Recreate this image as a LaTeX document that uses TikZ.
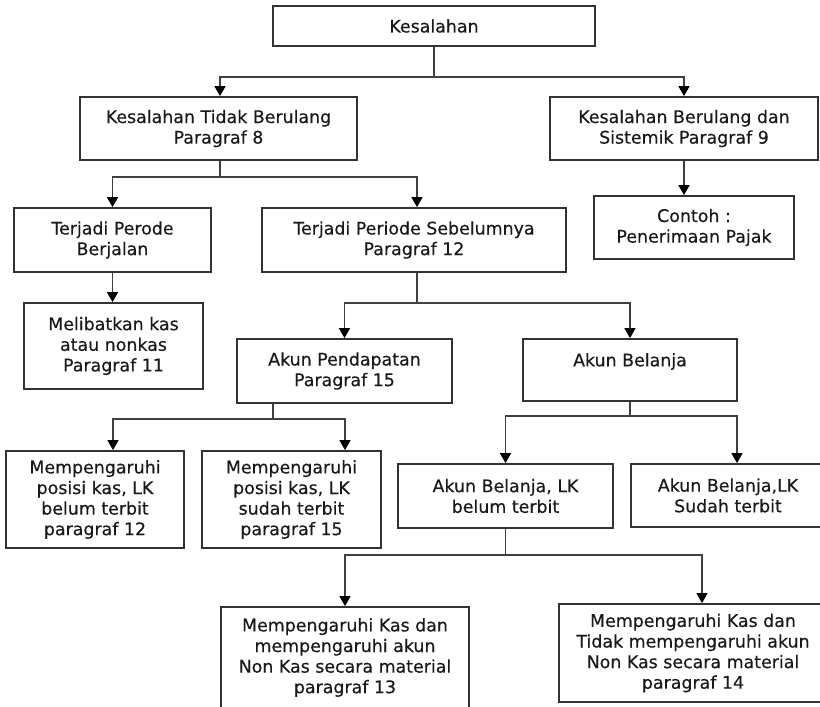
\documentclass[tikz,border=0pt]{standalone}
\usepackage{fontspec}
\setmainfont[FakeBold=0.3]{DejaVu Sans}
\usetikzlibrary{arrows.meta}
\begin{document}
\begin{tikzpicture}[x=1pt,y=-1pt,
  box/.style={draw=black!80, line width=1.8pt, fill=white, inner sep=0pt, align=center,
    font=\fontsize{17.4}{20.6}\selectfont, text=black!90},
  conn/.style={draw=black!75, line width=1.6pt},
  arr/.style={conn, -{Triangle[width=11pt,length=10pt,color=black,fill=black]}}]
\useasboundingbox (0,0) rectangle (820,707);
\fill[white] (0,0) rectangle (820,707);
% boxes
\node[box, minimum width=322pt, minimum height=40pt] (b1) at (434,26) {Kesalahan};
\node[box, minimum width=277pt, minimum height=63pt] (b2) at (218.5,128.5) {Kesalahan Tidak Berulang\\Paragraf 8};
\node[box, minimum width=268pt, minimum height=63pt] (b3) at (684,128.5) {Kesalahan Berulang dan\\Sistemik Paragraf 9};
\node[box, minimum width=197pt, minimum height=64pt] (b4) at (112.5,240) {Terjadi Perode\\Berjalan};
\node[box, minimum width=304pt, minimum height=64pt] (b5) at (414,240) {Terjadi Periode Sebelumnya\\Paragraf 12};
\node[box, minimum width=200pt, minimum height=63pt] (b6) at (694,227.5) {Contoh :\\Penerimaan Pajak};
\node[box, minimum width=179pt, minimum height=86pt] (b7) at (113.5,346) {Melibatkan kas\\atau nonkas\\Paragraf 11};
\node[box, minimum width=215pt, minimum height=64pt] (b8) at (344.5,371) {Akun Pendapatan\\Paragraf 15};
\node[box, minimum width=214pt, minimum height=62pt] (b9) at (630,370) {Akun Belanja\\~};
\node[box, minimum width=178pt, minimum height=97pt] (b10) at (95,499.5) {Mempengaruhi\\posisi kas, LK\\belum terbit\\paragraf 12};
\node[box, minimum width=179pt, minimum height=97pt] (b11) at (291.5,499.5) {Mempengaruhi\\posisi kas, LK\\sudah terbit\\paragraf 15};
\node[box, minimum width=215pt, minimum height=64pt] (b12) at (505.5,496) {Akun Belanja, LK\\belum terbit};
\node[box, minimum width=194pt, minimum height=63pt] (b13) at (728,495.5) {Akun Belanja,LK\\Sudah terbit};
\node[box, minimum width=248pt, minimum height=101pt] (b14) at (345,657.5) {Mempengaruhi Kas dan\\mempengaruhi akun\\Non Kas secara material\\paragraf 13};
\node[box, minimum width=268pt, minimum height=98pt] (b15) at (693,653) {Mempengaruhi Kas dan\\Tidak mempengaruhi akun\\Non Kas secara material\\paragraf 14};
% junctions
\coordinate (j1) at (434,77);
\coordinate (j2) at (220,177);
\coordinate (j3) at (417,303);
\coordinate (j4) at (273,419);
\coordinate (j5) at (630,416);
\coordinate (j6) at (505.5,555);
% connectors
\draw[conn] (b1.south) -- (j1);
\draw[arr] (j1) -| ([xshift=1.5pt]b2.north);
\draw[arr] (j1) -| (b3.north);
\draw[conn] (j2 |- b2.south) -- (j2);
\draw[arr] (j2) -| (b4.north);
\draw[arr] (j2) -| ([xshift=3pt]b5.north);
\draw[arr] (b3.south) -- (b3.south |- b6.north);
\draw[arr] (b4.south) -- (b4.south |- b7.north);
\draw[conn] (j3 |- b5.south) -- (j3);
\draw[arr] (j3) -| (b8.north);
\draw[arr] (j3) -| (b9.north);
\draw[conn] (j4 |- b8.south) -- (j4);
\draw[arr] (j4) -| ([xshift=18pt]b10.north);
\draw[arr] (j4) -| ([xshift=53.5pt]b11.north);
\draw[conn] (b9.south) -- (j5);
\draw[arr] (j5) -| (b12.north);
\draw[arr] (j5) -| ([xshift=9pt]b13.north);
\draw[conn] (b12.south) -- (j6);
\draw[arr] (j6) -| (b14.north);
\draw[arr] (j6) -| ([xshift=9pt]b15.north);
\end{tikzpicture}
\end{document}
